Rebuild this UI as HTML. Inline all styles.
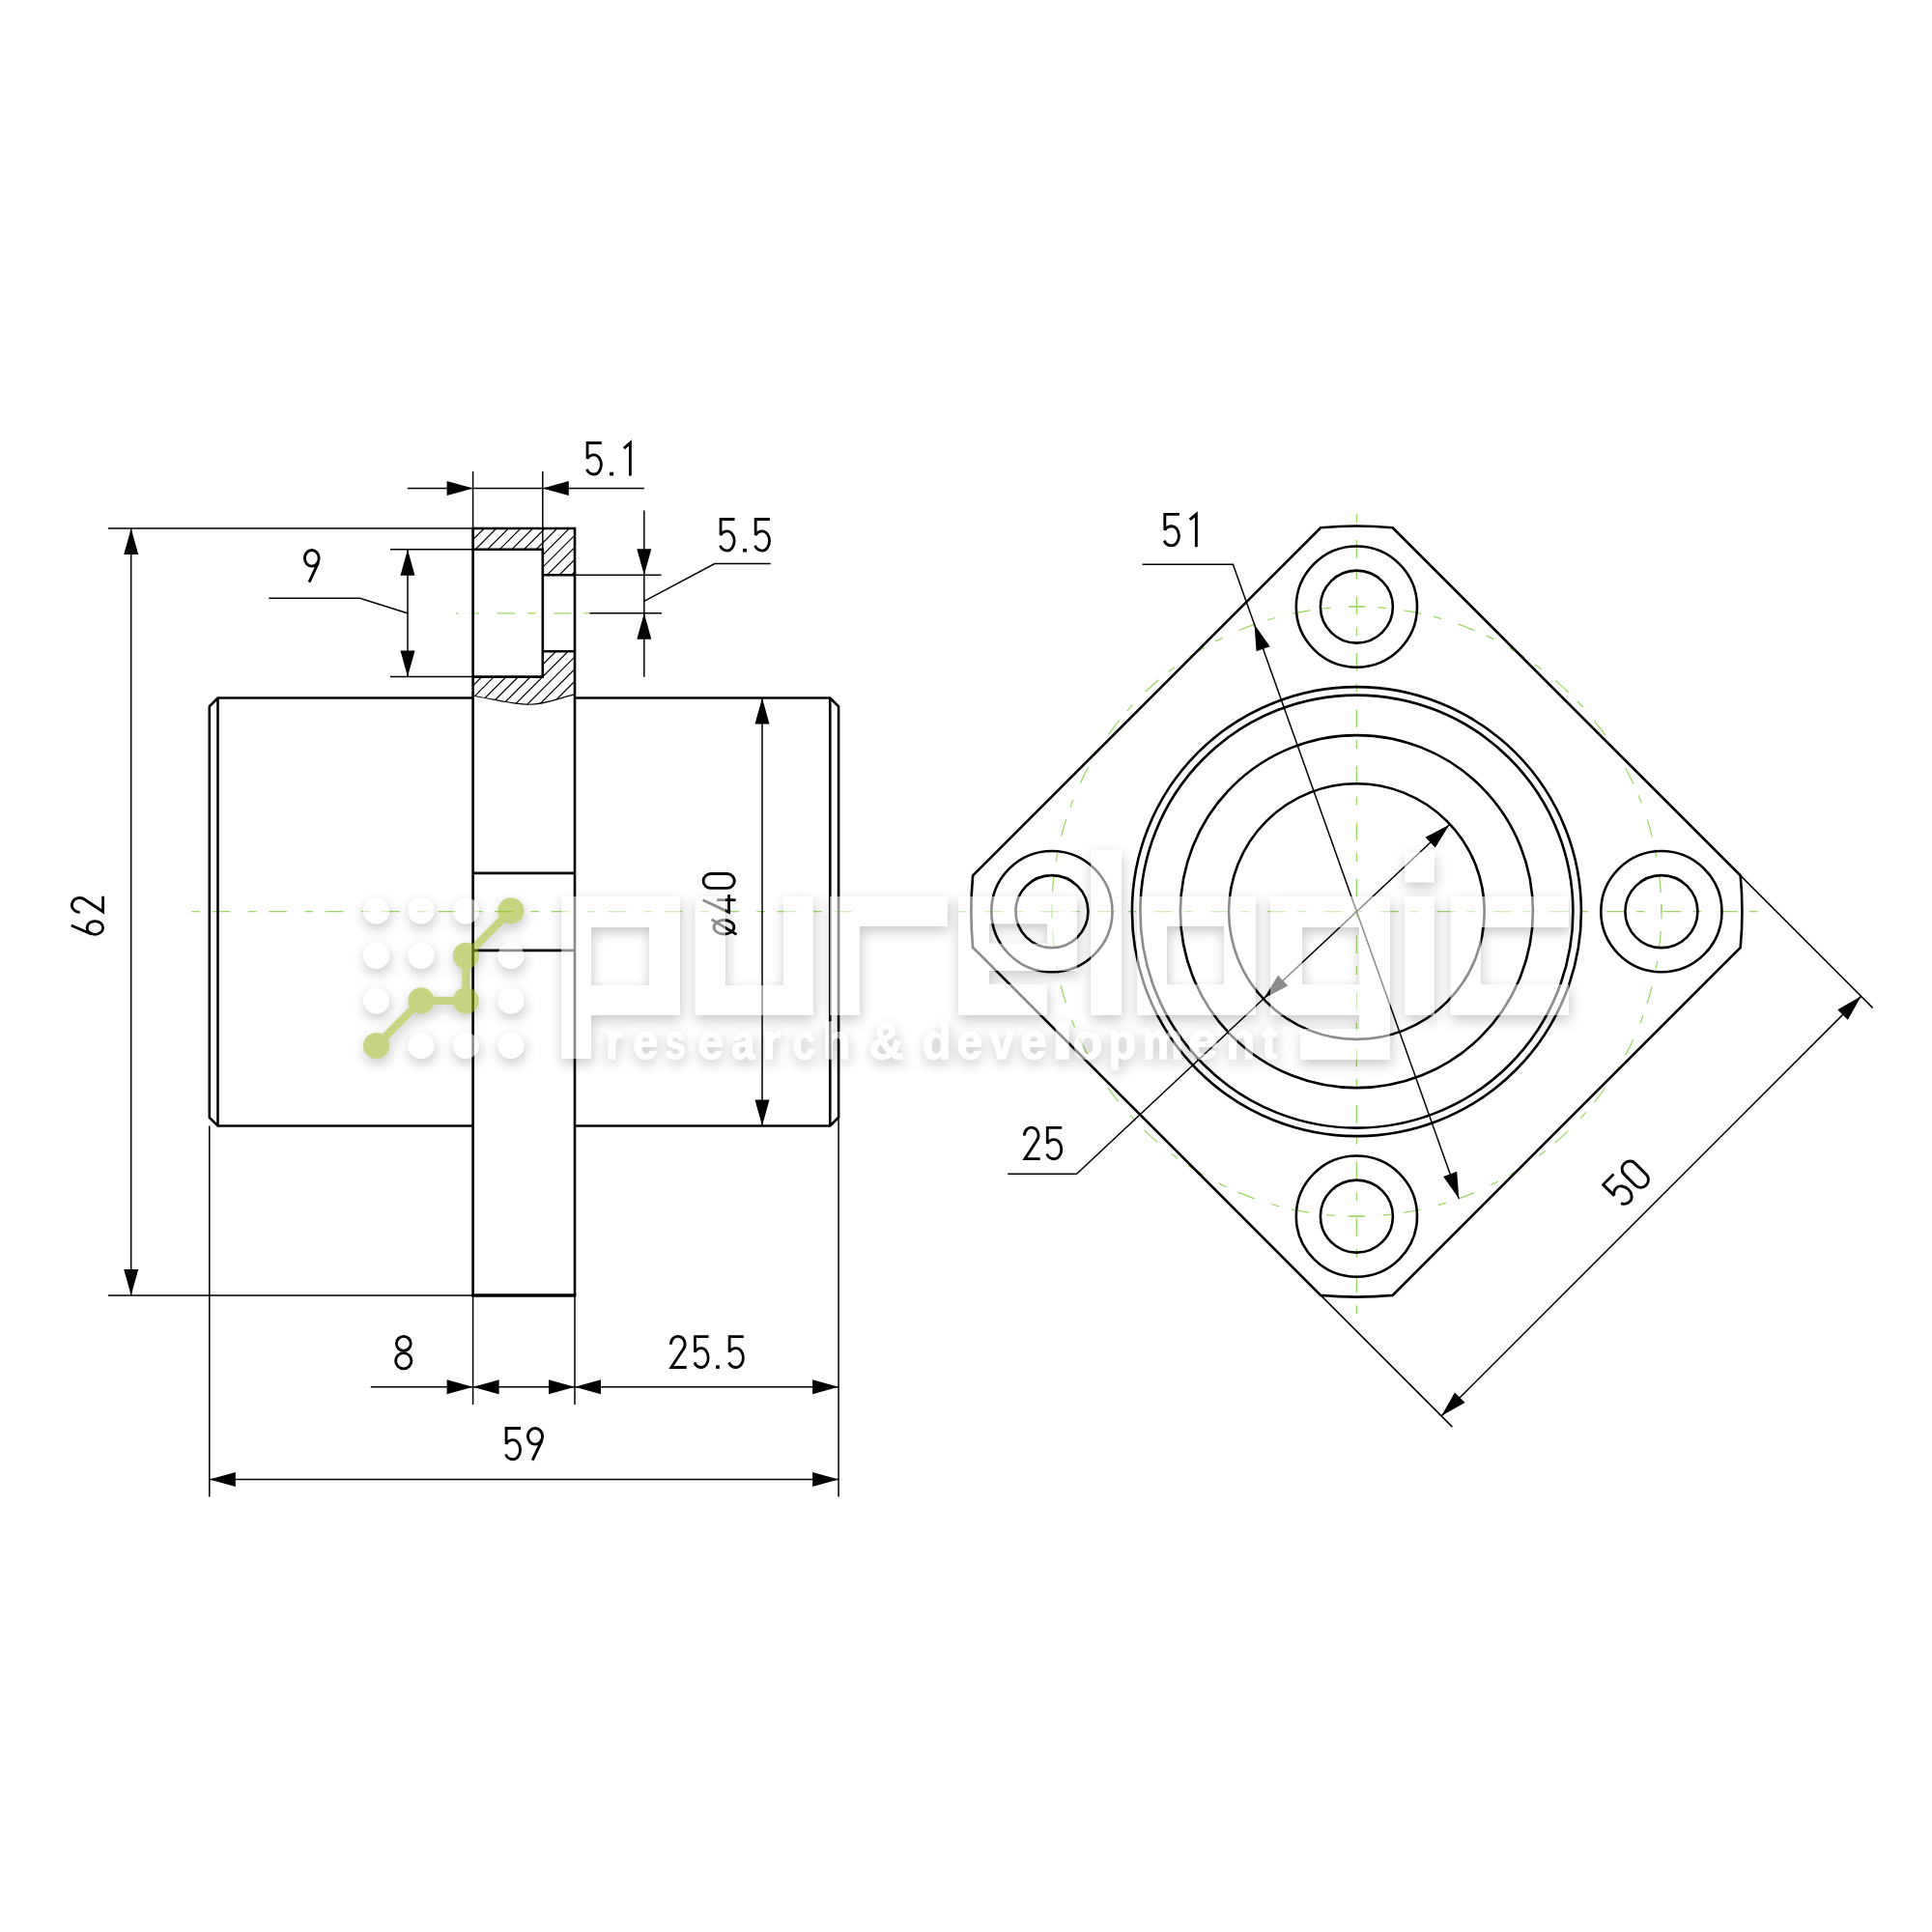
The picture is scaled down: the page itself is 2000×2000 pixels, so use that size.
<!DOCTYPE html><html><head><meta charset="utf-8"><style>html,body{margin:0;padding:0;background:#fff;overflow:hidden}svg{display:block;will-change:transform}</style></head><body>
<svg width="2000" height="2000" viewBox="0 0 2000 2000">
<rect width="2000" height="2000" fill="#fff"/>
<defs>
<clipPath id="hatchclip"><path d="M489.6,547 H595 V595.2 H561.8 V568.7 H489.6 Z M561.8,674.1 H595 V718.9 C580,722 565,729.5 547.3,729.3 C530,729 505,722.5 489.6,720.2 V700.6 H561.8 Z"/></clipPath>
<filter id="ds" filterUnits="userSpaceOnUse" x="300" y="840" width="1400" height="300"><feGaussianBlur in="SourceAlpha" stdDeviation="6.5" result="b"/><feOffset in="b" dx="1" dy="5" result="o"/><feComposite in="o" in2="SourceAlpha" operator="out" result="s"/><feFlood flood-color="#000" flood-opacity="0.22"/><feComposite in2="s" operator="in"/></filter>
</defs>
<g stroke="#9cd766" stroke-width="1.25" fill="none">
<line x1="198.40" y1="943.60" x2="883.50" y2="943.60" stroke-width="1.25" stroke-dasharray="8.6 12.6 18.8 18.5"/>
<line x1="992.00" y1="943.60" x2="1820.60" y2="943.60" stroke-width="1.25" stroke-dasharray="8.5 19 18.8 12.2"/>
<line x1="471.70" y1="634.80" x2="610.40" y2="634.80" stroke-width="1.25" stroke-dasharray="18.5 13 8.5 18.5" stroke-dashoffset="15.7"/>
<line x1="1404.40" y1="532.30" x2="1404.40" y2="1360.00" stroke-width="1.25" stroke-dasharray="8.6 18 18.8 13.1"/>
<circle cx="1404.4" cy="943.6" r="315.5" stroke-dasharray="18.438 12.957 8.472 18.438" stroke-dashoffset="9.219" transform="rotate(-90 1404.4 943.6)"/>
<line x1="1396.70" y1="628.10" x2="1412.10" y2="628.10" stroke-width="1.25" />
<line x1="1396.70" y1="1259.10" x2="1412.10" y2="1259.10" stroke-width="1.25" />
<line x1="1719.90" y1="936.10" x2="1719.90" y2="951.10" stroke-width="1.25" />
<line x1="1088.90" y1="936.10" x2="1088.90" y2="951.10" stroke-width="1.25" />
</g>
<g stroke="#000" fill="none" stroke-linecap="butt" stroke-linejoin="miter">
<path clip-path="url(#hatchclip)" stroke-width="1.2" d="M465.20000000000005,520 L225.20000000000005,760 M477.80000000000007,520 L237.80000000000007,760 M490.4000000000001,520 L250.4000000000001,760 M503.0,520 L263.0,760 M515.6000000000001,520 L275.60000000000014,760 M528.2,520 L288.20000000000005,760 M540.8,520 L300.79999999999995,760 M553.4000000000001,520 L313.4000000000001,760 M566.0,520 L326.0,760 M578.6000000000001,520 L338.60000000000014,760 M591.2,520 L351.20000000000005,760 M603.8,520 L363.79999999999995,760 M616.4000000000001,520 L376.4000000000001,760 M629.0,520 L389.0,760 M641.6000000000001,520 L401.60000000000014,760 M654.2,520 L414.20000000000005,760 M666.8,520 L426.79999999999995,760 M679.4000000000001,520 L439.4000000000001,760 M692.0,520 L452.0,760 M704.6000000000001,520 L464.60000000000014,760 M717.2,520 L477.20000000000005,760 M729.8,520 L489.79999999999995,760 M742.4000000000001,520 L502.4000000000001,760 M755.0,520 L515.0,760 M767.6000000000001,520 L527.6000000000001,760 M780.2,520 L540.2,760 M792.8,520 L552.8,760 M805.4000000000001,520 L565.4000000000001,760 M818.0,520 L578.0,760 M830.5999999999999,520 L590.5999999999999,760 M843.2,520 L603.2,760 M855.8,520 L615.8,760 M868.4000000000001,520 L628.4000000000001,760 M881.0,520 L641.0,760 M893.5999999999999,520 L653.5999999999999,760 M906.2,520 L666.2,760 M918.8,520 L678.8,760 M931.4000000000001,520 L691.4000000000001,760 M944.0,520 L704.0,760 M956.5999999999999,520 L716.5999999999999,760 M969.2,520 L729.2,760 M981.8,520 L741.8,760 M994.4000000000001,520 L754.4000000000001,760 M1007.0,520 L767.0,760 M1019.5999999999999,520 L779.5999999999999,760"/>
<path stroke-width="1.1" d="M489.6,720.2 C505,722.5 530,729 547.3,729.3 C565,729.5 580,722 595,718.9"/>
<path stroke-width="2.6" d="M489.6,722.5 H225.5 L216.8,731.3 V1157 L225.5,1165.5 H489.6 M225.5,722.5 V1165.5 M595,722.5 H859.3 L868.1,731.3 V1156.7 L859.3,1165.5 H595 M859.3,722.5 V1165.5"/>
<path stroke-width="2.6" d="M489.6,547 V1341 M595,547 V1341 M488.3,547 H596.3 M489.6,568.7 H561.8 V700.6 H489.6 M561.8,595.2 H595 M561.8,674.2 H595 M489.6,903.9 H595 M489.6,983.9 H595"/>
<path stroke-width="3.6" d="M488.3,1341 H596.3"/>
<path stroke-width="1.5" d="M112,547 H489.6 M112,1341 H489.6 M135.7,547 V1341 M404,568.7 H489.6 M404,700.4 H489.6 M422,568.7 V700.4 M278.3,619.3 H372.5 L421.7,634.8 M489.6,488 V547 M561.8,488 V568.7 M421.8,505.6 H666.8 M595,595.2 H684.6 M610.4,634.8 H685 M666.8,528.4 V700.8 M666.8,622.4 L739.8,583.5 H797.7 M789,722.5 V1165.5 M216.8,1165.5 V1549.4 M489.6,1341 V1454 M595,1341 V1454 M868.1,1156.7 V1549.4 M383.8,1435.8 H868.1 M216.8,1531.5 H868.1"/>
</g>
<g fill="#000" stroke="none">
<polygon points="135.70,547.00 128.20,574.00 143.20,574.00"/>
<polygon points="135.70,1341.00 143.20,1314.00 128.20,1314.00"/>
<polygon points="422.00,568.70 414.50,595.70 429.50,595.70"/>
<polygon points="422.00,700.40 429.50,673.40 414.50,673.40"/>
<polygon points="489.60,505.60 462.60,498.10 462.60,513.10"/>
<polygon points="561.80,505.60 588.80,513.10 588.80,498.10"/>
<polygon points="666.80,595.20 674.30,568.20 659.30,568.20"/>
<polygon points="666.80,634.80 659.30,661.80 674.30,661.80"/>
<polygon points="789.00,722.50 781.50,749.50 796.50,749.50"/>
<polygon points="789.00,1165.50 796.50,1138.50 781.50,1138.50"/>
<polygon points="489.60,1435.80 462.60,1428.30 462.60,1443.30"/>
<polygon points="489.60,1435.80 516.60,1443.30 516.60,1428.30"/>
<polygon points="595.00,1435.80 568.00,1428.30 568.00,1443.30"/>
<polygon points="595.00,1435.80 622.00,1443.30 622.00,1428.30"/>
<polygon points="868.10,1435.80 841.10,1428.30 841.10,1443.30"/>
<polygon points="216.80,1531.50 243.80,1539.00 243.80,1524.00"/>
<polygon points="868.10,1531.50 841.10,1524.00 841.10,1539.00"/>
</g>
<g stroke="#000" fill="none">
<path stroke-width="2.6" stroke-linejoin="miter" d="M1367.20,546.30 A399.0,399.0 0 0 1 1441.60,546.30 L1801.70,906.40 A399.0,399.0 0 0 1 1801.70,980.80 L1441.60,1340.90 A399.0,399.0 0 0 1 1367.20,1340.90 L1007.10,980.80 A399.0,399.0 0 0 1 1007.10,906.40 Z"/>
<circle cx="1404.4" cy="943.6" r="232.5" stroke-width="2.6"/>
<circle cx="1404.4" cy="943.6" r="224.0" stroke-width="2.6"/>
<circle cx="1404.4" cy="943.6" r="182.5" stroke-width="2.6"/>
<circle cx="1404.4" cy="943.6" r="132.3" stroke-width="2.6"/>
<circle cx="1404.4" cy="628.1" r="62.6" stroke-width="2.6"/>
<circle cx="1404.4" cy="628.1" r="37.5" stroke-width="2.6"/>
<circle cx="1719.9" cy="943.6" r="62.6" stroke-width="2.6"/>
<circle cx="1719.9" cy="943.6" r="37.5" stroke-width="2.6"/>
<circle cx="1404.4" cy="1259.1" r="62.6" stroke-width="2.6"/>
<circle cx="1404.4" cy="1259.1" r="37.5" stroke-width="2.6"/>
<circle cx="1088.9" cy="943.6" r="62.6" stroke-width="2.6"/>
<circle cx="1088.9" cy="943.6" r="37.5" stroke-width="2.6"/>
<path stroke-width="1.5" d="M1182.6,584.2 H1276.42 L1510.23,1240.82 M1043.2,1215.2 H1114.53 L1500.36,853.69 M1801.70,906.40 L1938.7,1043.40 M1367.20,1340.90 L1503.4,1477.10 M1926.65,1031.35 L1492.15,1465.85"/>
</g>
<g fill="#000" stroke="none">
<polygon points="1298.57,646.38 1300.56,674.33 1314.69,669.30"/>
<polygon points="1510.23,1240.82 1508.24,1212.87 1494.11,1217.90"/>
<polygon points="1500.36,853.69 1475.53,866.68 1485.78,877.62"/>
<polygon points="1308.44,1033.51 1333.27,1020.52 1323.02,1009.58"/>
<polygon points="1926.65,1031.35 1902.25,1045.14 1912.86,1055.75"/>
<polygon points="1492.15,1465.85 1516.55,1452.06 1505.94,1441.45"/>
</g>
<g fill="none" stroke="#000" stroke-width="2.85" stroke-linejoin="miter" stroke-miterlimit="2.6" stroke-linecap="butt">
<path transform="translate(606.1,457.1) scale(0.9889,1.0086)" d="M16.9,1.42 H2.0 V17.6 C3.6,14.9 6.2,13.6 8.95,13.6 A7.55,10 0 0 1 16.5,23.6 A7.55,10 0 0 1 8.95,33.6 C5.6,33.6 2.7,31.6 1.4,28.4"/>
<path transform="translate(631.1,457.1) scale(1.0000,1.0086)" d="M0,31.4 H4 V35 H0 Z" fill="#000" stroke="none"/>
<path transform="translate(644.9,457.1) scale(1.0000,1.0086)" d="M7.5,35 V1.3 L1.0,6.9"/>
<path transform="translate(744.1,536.1) scale(0.9722,1.0114)" d="M16.9,1.42 H2.0 V17.6 C3.6,14.9 6.2,13.6 8.95,13.6 A7.55,10 0 0 1 16.5,23.6 A7.55,10 0 0 1 8.95,33.6 C5.6,33.6 2.7,31.6 1.4,28.4"/>
<path transform="translate(769.1,536.1) scale(0.9750,1.0114)" d="M0,31.4 H4 V35 H0 Z" fill="#000" stroke="none"/>
<path transform="translate(780.2,536.1) scale(0.9889,1.0114)" d="M16.9,1.42 H2.0 V17.6 C3.6,14.9 6.2,13.6 8.95,13.6 A7.55,10 0 0 1 16.5,23.6 A7.55,10 0 0 1 8.95,33.6 C5.6,33.6 2.7,31.6 1.4,28.4"/>
<path transform="translate(313.95,568.1) scale(1.0028,0.9971)" d="M1.42,9.75 A7.38,8.33 0 1 0 16.18,9.75 A7.38,8.33 0 1 0 1.42,9.75 Z M15.6,14.0 L6.1,34.6"/>
<path transform="translate(408.2,1382.0) scale(1.0000,1.0086)" d="M2.15,8.8 A7.45,7.38 0 1 0 17.05,8.8 A7.45,7.38 0 1 0 2.15,8.8 Z M1.42,26.5 A8.13,8.08 0 1 0 17.68,26.5 A8.13,8.08 0 1 0 1.42,26.5 Z"/>
<path transform="translate(692.9,1382.2) scale(0.9944,0.9914)" d="M1.5,9.6 A7.4,8.2 0 1 1 14.3,15.0 L2.0,33.58 H18"/>
<path transform="translate(717.6,1382.2) scale(0.9444,0.9914)" d="M16.9,1.42 H2.0 V17.6 C3.6,14.9 6.2,13.6 8.95,13.6 A7.55,10 0 0 1 16.5,23.6 A7.55,10 0 0 1 8.95,33.6 C5.6,33.6 2.7,31.6 1.4,28.4"/>
<path transform="translate(741.1,1382.2) scale(0.9250,0.9914)" d="M0,31.4 H4 V35 H0 Z" fill="#000" stroke="none"/>
<path transform="translate(753.2,1382.2) scale(0.9833,0.9914)" d="M16.9,1.42 H2.0 V17.6 C3.6,14.9 6.2,13.6 8.95,13.6 A7.55,10 0 0 1 16.5,23.6 A7.55,10 0 0 1 8.95,33.6 C5.6,33.6 2.7,31.6 1.4,28.4"/>
<path transform="translate(522.1,1477.1) scale(1.0000,1.0000)" d="M16.9,1.42 H2.0 V17.6 C3.6,14.9 6.2,13.6 8.95,13.6 A7.55,10 0 0 1 16.5,23.6 A7.55,10 0 0 1 8.95,33.6 C5.6,33.6 2.7,31.6 1.4,28.4"/>
<path transform="translate(544.9,1477.1) scale(1.0341,1.0000)" d="M1.42,9.75 A7.38,8.33 0 1 0 16.18,9.75 A7.38,8.33 0 1 0 1.42,9.75 Z M15.6,14.0 L6.1,34.6"/>
<path transform="translate(1203.8,531.0) scale(1.0111,1.0086)" d="M16.9,1.42 H2.0 V17.6 C3.6,14.9 6.2,13.6 8.95,13.6 A7.55,10 0 0 1 16.5,23.6 A7.55,10 0 0 1 8.95,33.6 C5.6,33.6 2.7,31.6 1.4,28.4"/>
<path transform="translate(1230.7,531.0) scale(1.0220,1.0086)" d="M7.5,35 V1.3 L1.0,6.9"/>
<path transform="translate(1059.0,1166.0) scale(0.9833,1.0029)" d="M1.5,9.6 A7.4,8.2 0 1 1 14.3,15.0 L2.0,33.58 H18"/>
<path transform="translate(1082.3,1166.0) scale(1.0000,1.0029)" d="M16.9,1.42 H2.0 V17.6 C3.6,14.9 6.2,13.6 8.95,13.6 A7.55,10 0 0 1 16.5,23.6 A7.55,10 0 0 1 8.95,33.6 C5.6,33.6 2.7,31.6 1.4,28.4"/>
<path transform="translate(73.2,968.7) rotate(-90) scale(0.9429,0.9943)" d="M1.42,25.3 A7.33,8.3 0 1 0 16.08,25.3 A7.33,8.3 0 1 0 1.42,25.3 Z M11.4,0.6 L2.0,21.0"/>
<path transform="translate(73.2,945.8) rotate(-90) scale(1.0000,0.9943)" d="M1.5,9.6 A7.4,8.2 0 1 1 14.3,15.0 L2.0,33.58 H18"/>
<path transform="translate(726.7,968.4) rotate(-90) scale(1.0000,1.0000)" d="M1.42,22.8 A7.23,10.4 0 1 0 15.88,22.8 A7.23,10.4 0 1 0 1.42,22.8 Z M16.6,9.9 L1.0,35.8"/>
<path transform="translate(726.7,945.6) rotate(-90) scale(1.0000,1.0000)" d="M13.9,0.9 L1.42,27.9 H19.7 M13.9,15.5 V35"/>
<path transform="translate(726.7,920.8) rotate(-90) scale(0.9833,1.0000)" d="M1.42,9.0 A7.58,7.58 0 0 1 16.58,9.0 V26.0 A7.58,7.58 0 0 1 1.42,26.0 Z"/>
<path transform="translate(1657.2,1226.8) rotate(-45) translate(0.0,0) scale(1.0278,0.9886)" d="M16.9,1.42 H2.0 V17.6 C3.6,14.9 6.2,13.6 8.95,13.6 A7.55,10 0 0 1 16.5,23.6 A7.55,10 0 0 1 8.95,33.6 C5.6,33.6 2.7,31.6 1.4,28.4"/>
<path transform="translate(1657.2,1226.8) rotate(-45) translate(23.5,0) scale(1.0556,0.9886)" d="M1.42,9.0 A7.58,7.58 0 0 1 16.58,9.0 V26.0 A7.58,7.58 0 0 1 1.42,26.0 Z"/>
</g>
<g filter="url(#ds)">
<g fill="#000" fill-opacity="1">
<path fill-rule="evenodd" d="M581,928 H704 V1051 H612 V1096 H581 Z M612,960 V1020 H672 V960 Z M719.5,928 H751 V1020 H811 V928 H842 V1051 H719.5 Z M859,928 H981 V959 H890 V1051 H859 Z M992,928 H1115 V1005 H1024 V1018.7 H1084 V1051 H992 Z M1024,956.2 V976.7 H1084 V956.2 Z M1129,880 H1161 V1051 H1129 Z M1177,928 H1300 V1051 H1177 Z M1208,959 V1019 H1267 V959 Z M1315,928 H1439 V1097 H1346 V1065 H1407 V1051 H1315 Z M1348,960 V1019 H1407 V960 Z M1454,882 H1485 V913.5 H1454 Z M1454,928 H1485 V1051 H1454 Z M1501.5,928 H1624 V960 H1533 V1019 H1624 V1051 H1501.5 Z"/>
<circle cx="389.6" cy="942.9" r="13.6"/>
<circle cx="435.9" cy="942.9" r="13.6"/>
<circle cx="482.3" cy="942.9" r="13.6"/>
<circle cx="389.6" cy="989.4" r="13.6"/>
<circle cx="435.9" cy="989.4" r="13.6"/>
<circle cx="528.9" cy="989.4" r="13.6"/>
<circle cx="389.6" cy="1035.9" r="13.6"/>
<circle cx="528.9" cy="1035.9" r="13.6"/>
<circle cx="435.9" cy="1082.5" r="13.6"/>
<circle cx="482.3" cy="1082.5" r="13.6"/>
<circle cx="528.9" cy="1082.5" r="13.6"/>
<g font-family="Liberation Sans, sans-serif" font-weight="bold" font-size="52" stroke="#000" stroke-width="1.4" stroke-linejoin="round"><text transform="matrix(0.9175,0,0,1,626.75,1095.5)">r</text><text transform="matrix(0.8920,0,0,1,655.19,1095.5)">e</text><text transform="matrix(0.7532,0,0,1,688.22,1095.5)">s</text><text transform="matrix(0.9239,0,0,1,722.42,1095.5)">e</text><text transform="matrix(0.8367,0,0,1,757.13,1095.5)">a</text><text transform="matrix(0.9487,0,0,1,789.25,1095.5)">r</text><text transform="matrix(0.8279,0,0,1,820.32,1095.5)">c</text><text transform="matrix(0.8993,0,0,1,851.53,1095.5)">h</text><text transform="matrix(0.9690,0,0,1,899.49,1095.5)">&amp;</text><text transform="matrix(0.9388,0,0,1,954.80,1095.5)">d</text><text transform="matrix(0.9239,0,0,1,990.42,1095.5)">e</text><text transform="matrix(0.8635,0,0,1,1024.82,1095.5)">v</text><text transform="matrix(0.9518,0,0,1,1056.37,1095.5)">e</text><text transform="matrix(1.6258,0,0,1,1087.90,1095.5)">l</text><text transform="matrix(0.9675,0,0,1,1110.63,1095.5)">o</text><text transform="matrix(0.9083,0,0,1,1147.29,1095.5)">p</text><text transform="matrix(0.9044,0,0,1,1182.90,1095.5)">m</text><text transform="matrix(1.0752,0,0,1,1229.82,1095.5)">e</text><text transform="matrix(0.9478,0,0,1,1269.25,1095.5)">n</text><text transform="matrix(0.9659,0,0,1,1306.09,1095.5)">t</text></g>
</g>
<g fill="#000" fill-opacity="1">
<path d="M389.6,1082.5 L435.9,1035.9 H482.3 V989.4 L528.9,942.9" fill="none" stroke="#000" stroke-opacity="1" stroke-width="8.2" stroke-linejoin="round"/>
<circle cx="528.9" cy="942.9" r="13.6"/>
<circle cx="482.3" cy="989.4" r="13.6"/>
<circle cx="435.9" cy="1035.9" r="13.6"/>
<circle cx="482.3" cy="1035.9" r="13.6"/>
<circle cx="389.6" cy="1082.5" r="13.6"/>
</g>
</g>
<g opacity="0.55">
<g fill="#fff">
<path fill-rule="evenodd" d="M581,928 H704 V1051 H612 V1096 H581 Z M612,960 V1020 H672 V960 Z M719.5,928 H751 V1020 H811 V928 H842 V1051 H719.5 Z M859,928 H981 V959 H890 V1051 H859 Z M992,928 H1115 V1005 H1024 V1018.7 H1084 V1051 H992 Z M1024,956.2 V976.7 H1084 V956.2 Z M1129,880 H1161 V1051 H1129 Z M1177,928 H1300 V1051 H1177 Z M1208,959 V1019 H1267 V959 Z M1315,928 H1439 V1097 H1346 V1065 H1407 V1051 H1315 Z M1348,960 V1019 H1407 V960 Z M1454,882 H1485 V913.5 H1454 Z M1454,928 H1485 V1051 H1454 Z M1501.5,928 H1624 V960 H1533 V1019 H1624 V1051 H1501.5 Z"/>
<circle cx="389.6" cy="942.9" r="13.6"/>
<circle cx="435.9" cy="942.9" r="13.6"/>
<circle cx="482.3" cy="942.9" r="13.6"/>
<circle cx="389.6" cy="989.4" r="13.6"/>
<circle cx="435.9" cy="989.4" r="13.6"/>
<circle cx="528.9" cy="989.4" r="13.6"/>
<circle cx="389.6" cy="1035.9" r="13.6"/>
<circle cx="528.9" cy="1035.9" r="13.6"/>
<circle cx="435.9" cy="1082.5" r="13.6"/>
<circle cx="482.3" cy="1082.5" r="13.6"/>
<circle cx="528.9" cy="1082.5" r="13.6"/>
<g font-family="Liberation Sans, sans-serif" font-weight="bold" font-size="52" stroke="#fff" stroke-width="1.4" stroke-linejoin="round"><text transform="matrix(0.9175,0,0,1,626.75,1095.5)">r</text><text transform="matrix(0.8920,0,0,1,655.19,1095.5)">e</text><text transform="matrix(0.7532,0,0,1,688.22,1095.5)">s</text><text transform="matrix(0.9239,0,0,1,722.42,1095.5)">e</text><text transform="matrix(0.8367,0,0,1,757.13,1095.5)">a</text><text transform="matrix(0.9487,0,0,1,789.25,1095.5)">r</text><text transform="matrix(0.8279,0,0,1,820.32,1095.5)">c</text><text transform="matrix(0.8993,0,0,1,851.53,1095.5)">h</text><text transform="matrix(0.9690,0,0,1,899.49,1095.5)">&amp;</text><text transform="matrix(0.9388,0,0,1,954.80,1095.5)">d</text><text transform="matrix(0.9239,0,0,1,990.42,1095.5)">e</text><text transform="matrix(0.8635,0,0,1,1024.82,1095.5)">v</text><text transform="matrix(0.9518,0,0,1,1056.37,1095.5)">e</text><text transform="matrix(1.6258,0,0,1,1087.90,1095.5)">l</text><text transform="matrix(0.9675,0,0,1,1110.63,1095.5)">o</text><text transform="matrix(0.9083,0,0,1,1147.29,1095.5)">p</text><text transform="matrix(0.9044,0,0,1,1182.90,1095.5)">m</text><text transform="matrix(1.0752,0,0,1,1229.82,1095.5)">e</text><text transform="matrix(0.9478,0,0,1,1269.25,1095.5)">n</text><text transform="matrix(0.9659,0,0,1,1306.09,1095.5)">t</text></g>
</g></g>
<g opacity="0.57">
<path d="M389.6,1082.5 L435.9,1035.9 H482.3 V989.4 L528.9,942.9" fill="none" stroke="#9bb524" stroke-width="8.2" stroke-linejoin="round"/>
<g fill="#9bb524">
<circle cx="528.9" cy="942.9" r="13.6"/>
<circle cx="482.3" cy="989.4" r="13.6"/>
<circle cx="435.9" cy="1035.9" r="13.6"/>
<circle cx="482.3" cy="1035.9" r="13.6"/>
<circle cx="389.6" cy="1082.5" r="13.6"/>
</g></g>
</svg></body></html>
